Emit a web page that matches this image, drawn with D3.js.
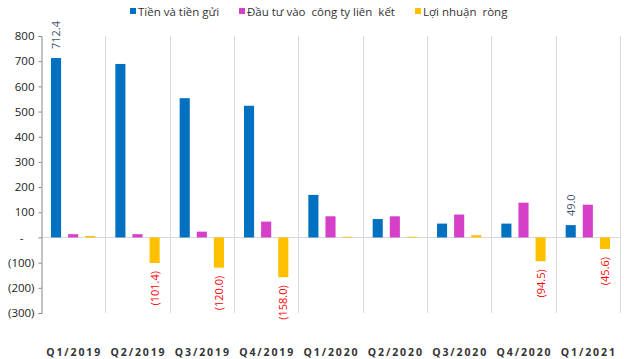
<!DOCTYPE html>
<html><head><meta charset="utf-8">
<script src="https://cdn.jsdelivr.net/npm/d3@7"></script>
<style>body{margin:0;background:#fff}svg{display:block}</style>
</head><body>
<svg id="c" width="624" height="359"></svg>
<script>
const categories = ["Q1/2019","Q2/2019","Q3/2019","Q4/2019","Q1/2020","Q2/2020","Q3/2020","Q4/2020","Q1/2021"];
const seriesNames = ["Tiền và tiền gửi","Đầu tư vào  công ty liên  kết","Lợi nhuận  ròng"];
const cash = [712.4, 689, 553, 523, 169, 73, 55, 55, 49.0];
const invest = [13, 13, 23, 63, 84, 84, 91, 138, 130];
const profit = [6, -101.4, -120.0, -158.0, 3, 3, 9, -94.5, -45.6];
const yTicks = [800,700,600,500,400,300,200,100,0,-100,-200,-300];
const labels = [
  {s:0, i:0, text:"712.4"},
  {s:0, i:8, text:"49.0"},
  {s:2, i:1, text:"(101.4)"},
  {s:2, i:2, text:"(120.0)"},
  {s:2, i:3, text:"(158.0)"},
  {s:2, i:7, text:"(94.5)"},
  {s:2, i:8, text:"(45.6)"}
];
const colors = ["#0070C0","#D63FC8","#FFC000"];
const series = [cash, invest, profit];

(function(){
const svg = d3.select("#c");
const font = "'Open Sans', 'DejaVu Sans', sans-serif";
const pL = 41, pR = 620, pT = 36, pB = 313;
const y = d3.scaleLinear().domain([-300, 800]).range([pB, pT]);
const x = d3.scaleBand().domain(categories).range([pL, pR]).padding(0);
const xs = d3.scaleBand().domain([0,1,2]).range([10, x.bandwidth()-10]).paddingInner(0.41);

// vertical separators
svg.append("g").selectAll("line").data(categories).join("line")
  .attr("x1", d => Math.round(x(d) + x.bandwidth())+0.5).attr("x2", d => Math.round(x(d) + x.bandwidth())+0.5)
  .attr("y1", pT).attr("y2", pB)
  .attr("stroke", "#d9d9d9").attr("stroke-width", 1);

// zero line
svg.append("line").attr("x1", pL).attr("x2", pR)
  .attr("y1", Math.round(y(0))+0.5).attr("y2", Math.round(y(0))+0.5)
  .attr("stroke", "#d9d9d9");

// bars
series.forEach((vals, s) => {
  svg.append("g").selectAll("rect").data(vals).join("rect")
    .attr("x", (d,i) => x(categories[i]) + xs(s))
    .attr("width", xs.bandwidth())
    .attr("y", d => y(Math.max(0,d)))
    .attr("height", d => Math.abs(y(d) - y(0)))
    .attr("fill", colors[s]);
});

// y axis
const yAxis = d3.axisLeft(y).tickValues(yTicks).tickSize(3).tickPadding(4)
  .tickFormat(d => d === 0 ? "-" : (d < 0 ? "(" + (-d) + ")" : String(d)));
const ga = svg.append("g").attr("transform", `translate(${pL+0.5},0)`).call(yAxis);
ga.select(".domain").attr("stroke", "#868686");
ga.selectAll(".tick line").attr("stroke", "#868686");
ga.selectAll(".tick text").attr("font-family", font).attr("font-size", 11.5).attr("fill", "#222");
ga.selectAll(".tick").filter(d => d === 0).select("text").attr("text-anchor","middle").attr("x", -20);

// x labels
svg.append("g").selectAll("text").data(categories).join("text")
  .attr("x", d => x(d) + x.bandwidth()/2 + 1)
  .attr("y", 356)
  .attr("text-anchor", "middle")
  .attr("font-family", font).attr("font-size", 10.5).attr("font-weight", "bold")
  .attr("letter-spacing", "1.9px").attr("fill", "#333")
  .text(d => d);

// data labels (rotated)
labels.forEach(l => {
  const v = series[l.s][l.i];
  const cx = x(categories[l.i]) + xs(l.s) + xs.bandwidth()/2;
  const neg = v < 0;
  const yy = neg ? y(v) + 8 : y(v) - 9;
  svg.append("text")
    .attr("transform", `translate(${cx + 4},${yy}) rotate(-90)`)
    .attr("text-anchor", neg ? "end" : "start")
    .attr("font-family", font).attr("font-size", 11)
    .attr("fill", neg ? "#FF0000" : "#44546A")
    .text(l.text);
});

// legend
const legX = [130, 239, 415];
const lg = svg.append("g");
seriesNames.forEach((n, i) => {
  lg.append("rect").attr("x", legX[i]).attr("y", 8).attr("width", 6).attr("height", 6).attr("fill", colors[i]);
  lg.append("text").attr("x", legX[i] + 8).attr("y", 15.5)
    .attr("font-family", font).attr("font-size", 11.5).attr("fill", "#333")
    .style("white-space","pre")
    .text(n);
});
})();
</script>
</body></html>
